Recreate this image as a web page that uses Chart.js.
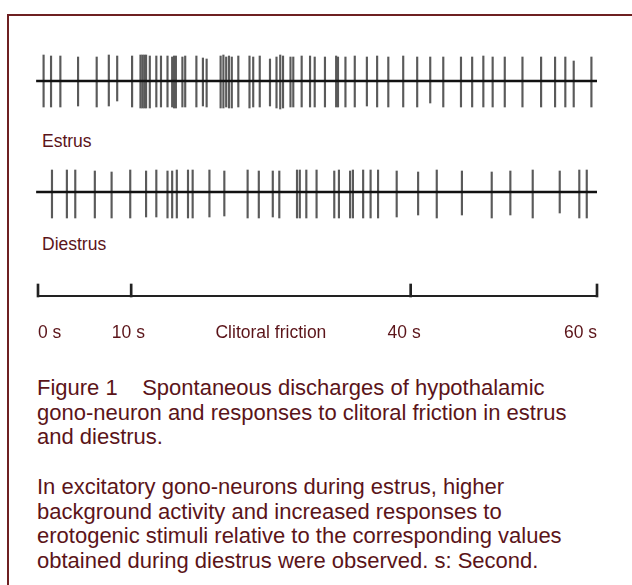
<!DOCTYPE html>
<html><head><meta charset="utf-8">
<script src="https://cdn.jsdelivr.net/npm/chart.js@4"></script>
<style>
html,body{margin:0;padding:0;background:#fff;width:632px;height:585px;overflow:hidden;}
#frame{position:absolute;left:7px;top:14px;width:700px;height:700px;border-left:2px solid #6e2021;border-top:2px solid #6e2021;box-sizing:border-box;}
.txt{position:absolute;font-family:"Liberation Sans",Arial,sans-serif;color:#5b1419;white-space:pre;margin:0;}
.lbl{font-size:17.5px;line-height:20px;left:42px;}
.cap{font-size:22px;line-height:24.6px;left:37px;}
canvas{position:absolute;}
</style></head>
<body>
<div id="frame"></div>
<canvas id="c1" width="579" height="70" style="left:28px;top:46px"></canvas>
<div class="txt lbl" style="top:131px">Estrus</div>
<canvas id="c2" width="579" height="70" style="left:28px;top:157px"></canvas>
<div class="txt lbl" style="top:234px">Diestrus</div>
<canvas id="c3" width="579" height="70" style="left:28px;top:278px"></canvas>
<div class="txt cap" style="top:376px">Figure 1    Spontaneous discharges of hypothalamic
gono-neuron and responses to clitoral friction in estrus
and diestrus.</div>
<div class="txt cap" style="top:475px">In excitatory gono-neurons during estrus, higher
background activity and increased responses to
erotogenic stimuli relative to the corresponding values
obtained during diestrus were observed. s: Second.</div>
<script>
// Spike times (s) and amplitudes (upward / downward deflection)
const estrusSpikes = [0.6,1.4,2.4,4.3,6.3,7.6,8.5,10.1,11.0,11.2,11.4,11.6,12.0,12.7,13.2,13.9,14.4,14.6,14.8,15.5,15.8,17.0,17.7,18.1,19.6,19.9,20.2,20.5,20.8,21.5,22.7,23.1,23.8,24.9,25.6,26.0,26.3,27.1,27.4,28.3,29.2,29.7,30.8,32.0,32.2,33.0,34.0,35.3,36.4,37.6,39.2,40.7,42.1,43.5,45.4,46.6,47.8,48.8,50.1,52.0,54.0,55.5,56.6,57.5,59.4];
const estrusUp = [26,25,25,24,24,26,25,25,26,26, 26,26,25,25,25,25,24,25,25,24, 25,25,23,22,25,26,24,25,24,25, 25,24,25,22,24,26,25,24,24,25, 25,24,24,25,24,24,25,24,25,24, 25,24,24,24,24,24,25,24,24,24, 24,24,24,20,24];
const estrusDown = [26,26,26,25,26,25,20,26,27,27, 27,27,27,26,26,26,26,27,27,26, 26,26,25,26,27,27,26,27,27,26, 27,26,26,25,27,28,27,26,26,26, 26,26,26,26,26,26,26,25,26,26, 26,26,22,26,26,26,26,26,26,26, 26,26,26,26,26];
const diestrusSpikes = [1.5,3.1,4.0,6.1,7.9,9.9,11.6,12.7,13.9,14.4,14.9,16.1,16.6,18.4,20.0,22.5,23.7,25.2,25.9,27.8,28.1,28.8,29.9,31.8,32.3,33.5,33.8,34.9,35.7,36.5,38.5,40.8,42.8,45.5,48.7,50.7,53.1,56.0,58.1,58.9];
const diestrusUp = [22,22,22,21,20,22,21,22,21,21, 22,22,22,22,21,22,21,21,21,22, 22,22,22,21,22,21,22,22,22,22, 21,20,22,21,20,21,22,21,22,22];
const diestrusDown = [26,26,26,26,26,26,25,25,26,26, 26,26,26,25,24,26,26,25,26,26, 26,26,26,26,26,26,26,26,26,26, 25,23,26,23,26,23,26,21,26,26];
const timeMarks = [0,10,40,60];
const timeLabels = ["0 s","10 s","Clitoral friction","40 s","60 s"];
const timeLabelAt = [0,9.7,25,39.3,60];

const FONT = '"Liberation Sans", Arial, sans-serif';
const TEXT = '#5b1419';

function traceChart(id, times, up, down){
  return new Chart(document.getElementById(id), {
    type: 'bar',
    data: { datasets: [
      { type:'line', data:[{x:-0.2,y:0},{x:60,y:0}], borderColor:'#111', borderWidth:2.6, pointRadius:0, clip:false, order:0 },
      { type:'bar', data: times.map((t,i)=>({x:t, y:[-down[i], up[i]]})), backgroundColor:'#5a5a5a', barThickness:1.5, clip:false, order:1 }
    ]},
    options: {
      responsive:false, animation:false, events:[],
      layout:{padding:{left:10,right:10,top:5,bottom:5}},
      plugins:{legend:{display:false}, tooltip:{enabled:false}},
      scales:{
        x:{type:'linear', min:0, max:60, offset:false, display:false},
        y:{min:-30, max:30, display:false}
      }
    }
  });
}
traceChart('c1', estrusSpikes, estrusUp, estrusDown);
traceChart('c2', diestrusSpikes, diestrusUp, diestrusDown);

new Chart(document.getElementById('c3'), {
  type:'bar',
  data:{ datasets:[
    { type:'line', data:[{x:0,y:0},{x:60,y:0}], borderColor:'#222', borderWidth:2, pointRadius:0, clip:false, order:0 },
    { type:'bar', data: timeMarks.map(t=>({x:t, y:[-1,12]})), backgroundColor:'#222', barThickness:2, clip:false, order:1 }
  ]},
  options:{
    responsive:false, animation:false, events:[],
    layout:{padding:{left:10,right:10,top:0,bottom:4}},
    plugins:{legend:{display:false}, tooltip:{enabled:false}},
    scales:{
      x:{type:'linear', min:0, max:60, offset:false,
         grid:{display:false, drawTicks:false}, border:{display:false},
         afterBuildTicks:(s)=>{ s.ticks = timeLabelAt.map(v=>({value:v})); },
         ticks:{autoSkip:false, maxRotation:0, align:'inner', padding:0, color:TEXT,
                font:{family:FONT, size:17.5, lineHeight:1.2},
                callback:(v,i)=>timeLabels[i]}},
      y:{min:-27, max:18, display:false}
    }
  }
});
</script>
</body></html>
